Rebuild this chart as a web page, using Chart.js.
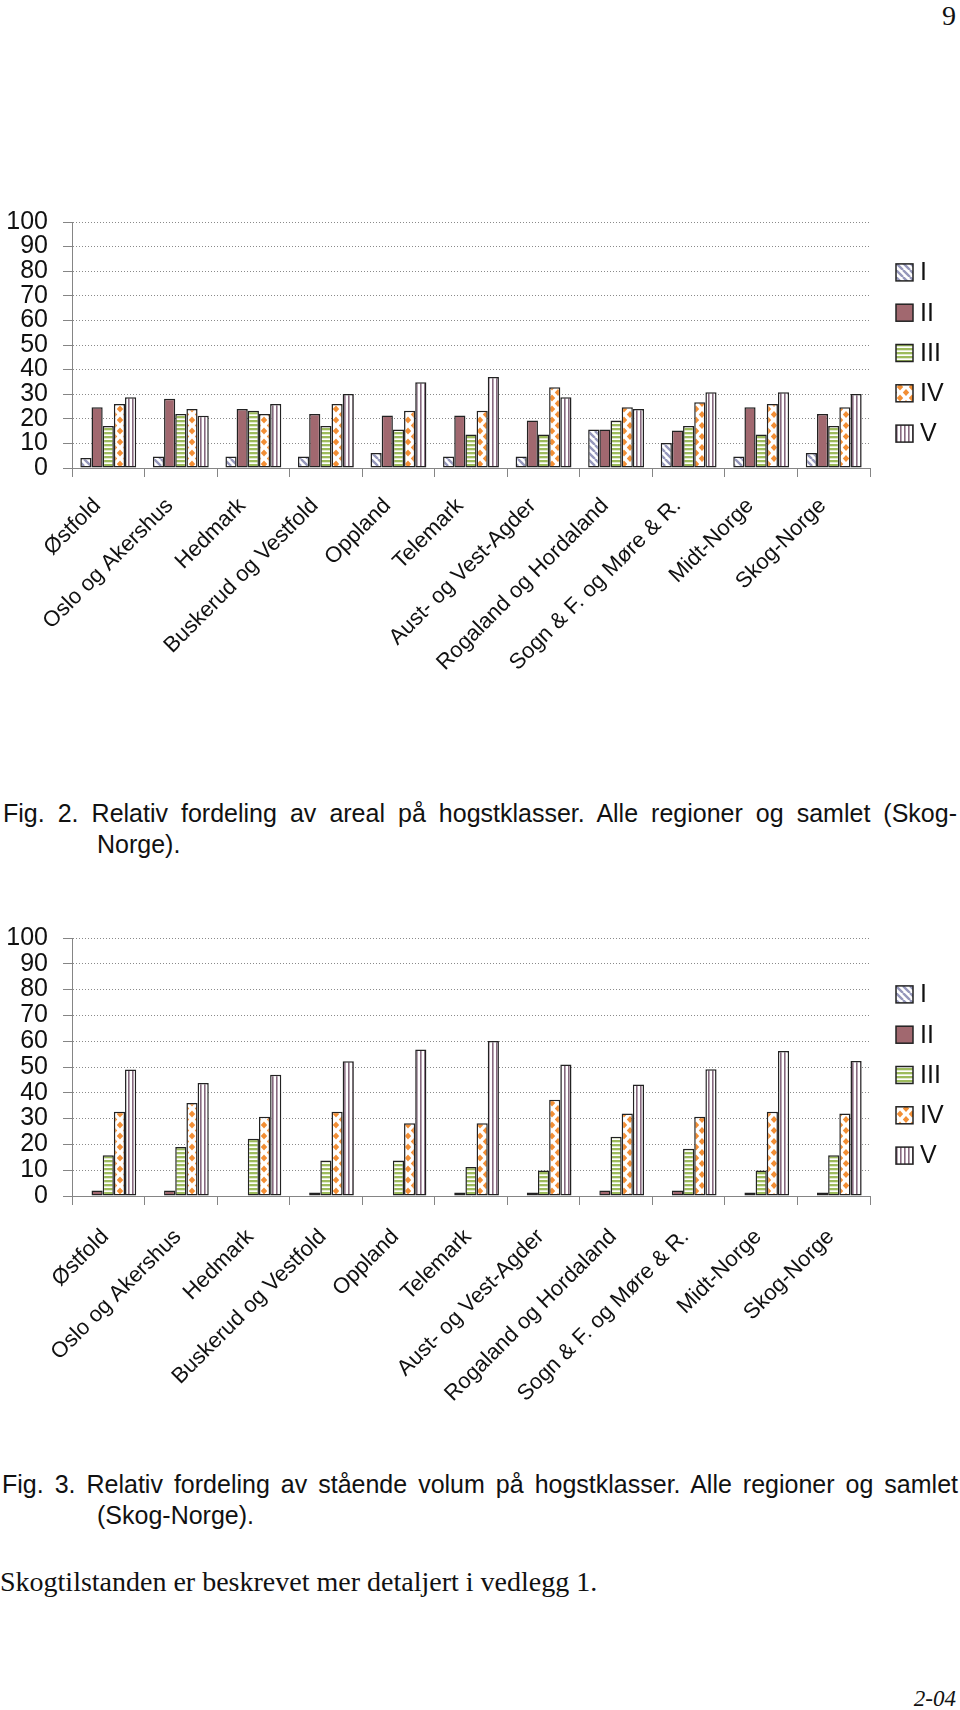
<!DOCTYPE html>
<html>
<head>
<meta charset="utf-8">
<script src="https://cdn.jsdelivr.net/npm/chart.js@4.4.1/dist/chart.umd.min.js"></script>
<style>
  body { margin: 0; background: #fff; }
  #page { position: relative; width: 960px; height: 1710px; overflow: hidden; background: #fff; color: #111; }
  .sans { font-family: "Liberation Sans", Arial, sans-serif; font-size: 25px; line-height: 31px; }
  .serif { font-family: "Liberation Serif", "Times New Roman", serif; }
  .abs { position: absolute; }
  .just { text-align: justify; text-align-last: justify; white-space: nowrap; }
</style>
</head>
<body>
<div id="page">
  <div class="abs serif" style="right:4px; top:0px; font-size:28px; line-height:31px;">9</div>

  <div class="abs" style="left:0; top:200px; width:960px; height:490px;">
    <canvas id="arealChart" width="960" height="490"></canvas>
  </div>

  <div class="abs sans" style="left:3px; top:798px; width:954px;">
    <div class="just">Fig. 2. Relativ fordeling av areal på hogstklasser. Alle regioner og samlet (Skog-</div>
    <div style="padding-left:94px;">Norge).</div>
  </div>

  <div class="abs" style="left:0; top:916px; width:960px; height:500px;">
    <canvas id="volumChart" width="960" height="500"></canvas>
  </div>

  <div class="abs sans" style="left:2px; top:1469px; width:956px;">
    <div class="just">Fig. 3. Relativ fordeling av stående volum på hogstklasser. Alle regioner og samlet</div>
    <div style="padding-left:95px;">(Skog-Norge).</div>
  </div>

  <div class="abs serif" style="left:0; top:1566px; font-size:28px; line-height:31px;">Skogtilstanden er beskrevet mer detaljert i vedlegg 1.</div>

  <div class="abs serif" style="right:4px; top:1686px; font-size:23px; line-height:26px; font-style:italic;">2-04</div>
</div>

<script>
// categories and series
const regions = ['Østfold', 'Oslo og Akershus', 'Hedmark', 'Buskerud og Vestfold', 'Oppland', 'Telemark',
  'Aust- og Vest-Agder', 'Rogaland og Hordaland', 'Sogn & F. og Møre & R.', 'Midt-Norge', 'Skog-Norge'];
const classes = ['I', 'II', 'III', 'IV', 'V'];

// Fig. 2 - areal (%)
const arealI   = [4.1, 4.7, 4.7, 4.7, 6.1, 4.7, 4.7, 15.7, 10.2, 4.7, 6.1];
const arealII  = [24.7, 28.1, 24.0, 22.0, 21.3, 21.3, 19.3, 15.7, 15.2, 24.7, 22.0];
const arealIII = [17.1, 22.0, 23.3, 17.1, 15.6, 13.6, 13.6, 19.3, 17.1, 13.6, 17.1];
const arealIV  = [26.0, 24.0, 22.0, 26.0, 23.3, 23.3, 32.8, 24.7, 26.7, 26.0, 24.7];
const arealV   = [28.8, 21.2, 26.0, 30.1, 34.9, 37.0, 28.8, 24.0, 30.8, 30.8, 30.1];

// Fig. 3 - staende volum (%)
const volumI   = [0, 0, 0, 0, 0, 0, 0, 0, 0, 0, 0];
const volumII  = [2.1, 2.1, 0, 1.4, 0, 1.4, 1.4, 2.1, 2.1, 1.4, 1.4];
const volumIII = [15.8, 19.0, 22.2, 13.8, 13.8, 11.2, 9.9, 23.0, 18.3, 9.9, 15.8];
const volumIV  = [32.7, 36.0, 30.7, 32.7, 28.2, 28.2, 37.3, 32.0, 30.7, 32.7, 32.0];
const volumV   = [49.0, 43.8, 47.0, 52.2, 56.8, 60.1, 51.0, 43.2, 49.1, 56.2, 52.3];

// y axis
const yMin = 0;
const yMax = 100;
const yStep = 10;

const FONT = '"Liberation Sans", Arial, sans-serif';

// fill patterns for the five classes
function tile(w, h, draw) {
  const c = document.createElement('canvas');
  c.width = w; c.height = h;
  const g = c.getContext('2d');
  g.fillStyle = '#fff';
  g.fillRect(0, 0, w, h);
  draw(g, w, h);
  return g.createPattern(c, 'repeat');
}

function makePatterns() {
  const diag = tile(7, 7, (g, w, h) => {
    g.strokeStyle = '#9597bb';
    g.lineWidth = 2.4;
    g.beginPath();
    for (let k = -1; k <= 1; k++) {
      g.moveTo(k * w, 0);
      g.lineTo(k * w + w, h);
    }
    g.stroke();
  });
  const horiz = tile(4, 4, (g) => {
    g.fillStyle = '#9dbb5c';
    g.fillRect(0, 0, 4, 2.3);
  });
  const diamonds = tile(12, 11, (g) => {
    g.fillStyle = '#f28e34';
    const pts = [[6, 5.5], [0, 0], [12, 0], [0, 11], [12, 11]];
    pts.forEach(([cx, cy]) => {
      g.beginPath();
      g.moveTo(cx, cy - 3.6);
      g.lineTo(cx + 3.2, cy);
      g.lineTo(cx, cy + 3.6);
      g.lineTo(cx - 3.2, cy);
      g.closePath();
      g.fill();
    });
  });
  const vert = tile(4, 4, (g) => {
    g.fillStyle = '#86697f';
    g.fillRect(0, 0, 1.6, 4);
  });
  return [diag, '#a1686f', horiz, diamonds, vert];
}

// legend drawn to the right of the plot
const sideLegend = {
  id: 'sideLegend',
  afterDraw(chart) {
    const ctx = chart.ctx;
    const area = chart.chartArea;
    const sets = chart.data.datasets;
    const mid = (area.top + area.bottom) / 2 + 8;
    const step = 40.3;
    const x = 896;
    ctx.save();
    ctx.font = '25px ' + FONT;
    ctx.textBaseline = 'middle';
    ctx.textAlign = 'left';
    sets.forEach((ds, i) => {
      const cy = mid + (i - (sets.length - 1) / 2) * step;
      ctx.fillStyle = ds.backgroundColor;
      ctx.fillRect(x, cy - 8.5, 17, 17);
      ctx.lineWidth = 1.5;
      ctx.strokeStyle = '#222';
      ctx.strokeRect(x, cy - 8.5, 17, 17);
      ctx.fillStyle = '#111';
      ctx.fillText(ds.label, x + 24, cy + 1);
    });
    ctx.restore();
  }
};

function makeChart(id, series, xHeight, labelOffset, labelPadding) {
  const ctx = document.getElementById(id).getContext('2d');
  const fills = makePatterns();
  return new Chart(ctx, {
    type: 'bar',
    data: {
      labels: regions,
      datasets: classes.map((name, i) => ({
        label: name,
        data: series[i],
        backgroundColor: fills[i],
        borderColor: '#222',
        borderWidth: 1.5,
        borderSkipped: false,
        categoryPercentage: 0.77,
        barPercentage: 1.0
      }))
    },
    options: {
      responsive: false,
      devicePixelRatio: 1,
      animation: false,
      layout: { padding: { top: 0, right: 90, bottom: 0, left: 0 } },
      plugins: {
        legend: { display: false },
        tooltip: { enabled: false }
      },
      scales: {
        x: {
          grid: {
            offset: true,
            drawOnChartArea: false,
            drawTicks: true,
            tickLength: 9,
            color: '#858585',
            lineWidth: 1
          },
          border: { color: '#858585', width: 1 },
          ticks: {
            autoSkip: false,
            maxRotation: 45,
            minRotation: 45,
            padding: labelPadding,
            labelOffset: labelOffset,
            color: '#111',
            font: { family: FONT, size: 22 }
          },
          afterFit(scale) { scale.height = xHeight; }
        },
        y: {
          min: yMin,
          max: yMax,
          grid: {
            color: '#8a8a8a',
            lineWidth: 1,
            tickLength: 9,
            tickColor: '#858585',
            tickBorderDash: []
          },
          border: { color: '#858585', width: 1, dash: [1, 2] },
          ticks: {
            stepSize: yStep,
            autoSkip: false,
            padding: 15,
            color: '#111',
            // small lineHeight keeps the top label overflow at 22px
            font: { family: FONT, size: 25, lineHeight: 0.56 }
          },
          afterFit(scale) { scale.width = 72; }
        }
      }
    },
    plugins: [sideLegend]
  });
}

makeChart('arealChart', [arealI, arealII, arealIII, arealIV, arealV], 222, -11, 16);
makeChart('volumChart', [volumI, volumII, volumIII, volumIV, volumV], 220, -3, 19);
</script>
</body>
</html>
